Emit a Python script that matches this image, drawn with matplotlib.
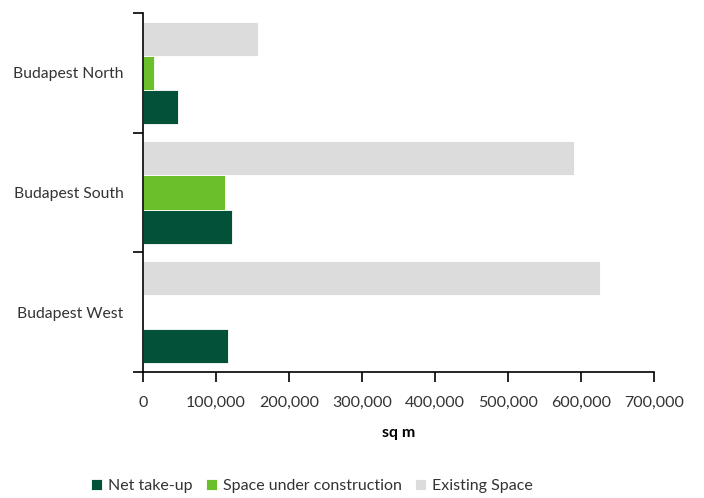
import numpy as np
import matplotlib.pyplot as plt
from matplotlib.ticker import FuncFormatter, FixedLocator

plt.rcParams['font.family'] = ['Lato', 'DejaVu Sans']

# data (sq m)
regions = ["Budapest North", "Budapest South", "Budapest West"]
net_takeup = [48000, 122000, 116000]
under_construction = [15000, 112000, 0]
existing = [158000, 590000, 626000]

c_net = "#04513a"
c_con = "#6abf2a"
c_ex = "#dcdcdc"

fig = plt.figure(figsize=(7.04, 4.98), dpi=100)
ax = fig.add_axes([143/704, 1-372/498, (654-143)/704, (372-13)/498])

y = np.arange(len(regions))
h = 0.285
ax.barh(y + h, net_takeup, height=h, color=c_net, edgecolor="white", linewidth=0.6, label="Net take-up")
ax.barh(y, under_construction, height=h, color=c_con, edgecolor="white", linewidth=0.6, label="Space under construction")
ax.barh(y - h, existing, height=h, color=c_ex, edgecolor="white", linewidth=0.6, label="Existing Space")

ax.set_ylim(2.5, -0.5)
ax.set_xlim(0, 700000)
ax.set_xticks(np.arange(0, 700001, 100000))
ax.xaxis.set_major_formatter(FuncFormatter(lambda v, p: f"{int(v):,}"))

ax.yaxis.set_major_locator(FixedLocator([-0.5, 0.5, 1.5, 2.5]))
ax.yaxis.set_major_formatter(FuncFormatter(lambda v, p: ""))
ax.yaxis.set_minor_locator(FixedLocator(y))
ax.set_yticklabels(regions, minor=True)
ax.tick_params(axis="y", which="minor", length=0, pad=14, labelsize=11.3, labelcolor="#333333")
ax.tick_params(axis="y", which="major", length=7, width=1.2, direction="out")
ax.tick_params(axis="x", length=7, width=1.2, direction="out", labelsize=11.5, labelcolor="#333333", pad=10)

for s in ["top", "right"]:
    ax.spines[s].set_visible(False)
for s in ["left", "bottom"]:
    ax.spines[s].set_linewidth(1.2)

ax.set_xlabel("sq m", fontsize=11.5, fontweight="bold", labelpad=12)

fig.legend(loc="center", bbox_to_anchor=(0.443, 0.024), ncol=3, frameon=False,
           fontsize=11.5, handlelength=0.7, handleheight=0.7, handletextpad=0.4, columnspacing=0.8,
           labelcolor="#333333")

fig.savefig("out.png", dpi=100)
